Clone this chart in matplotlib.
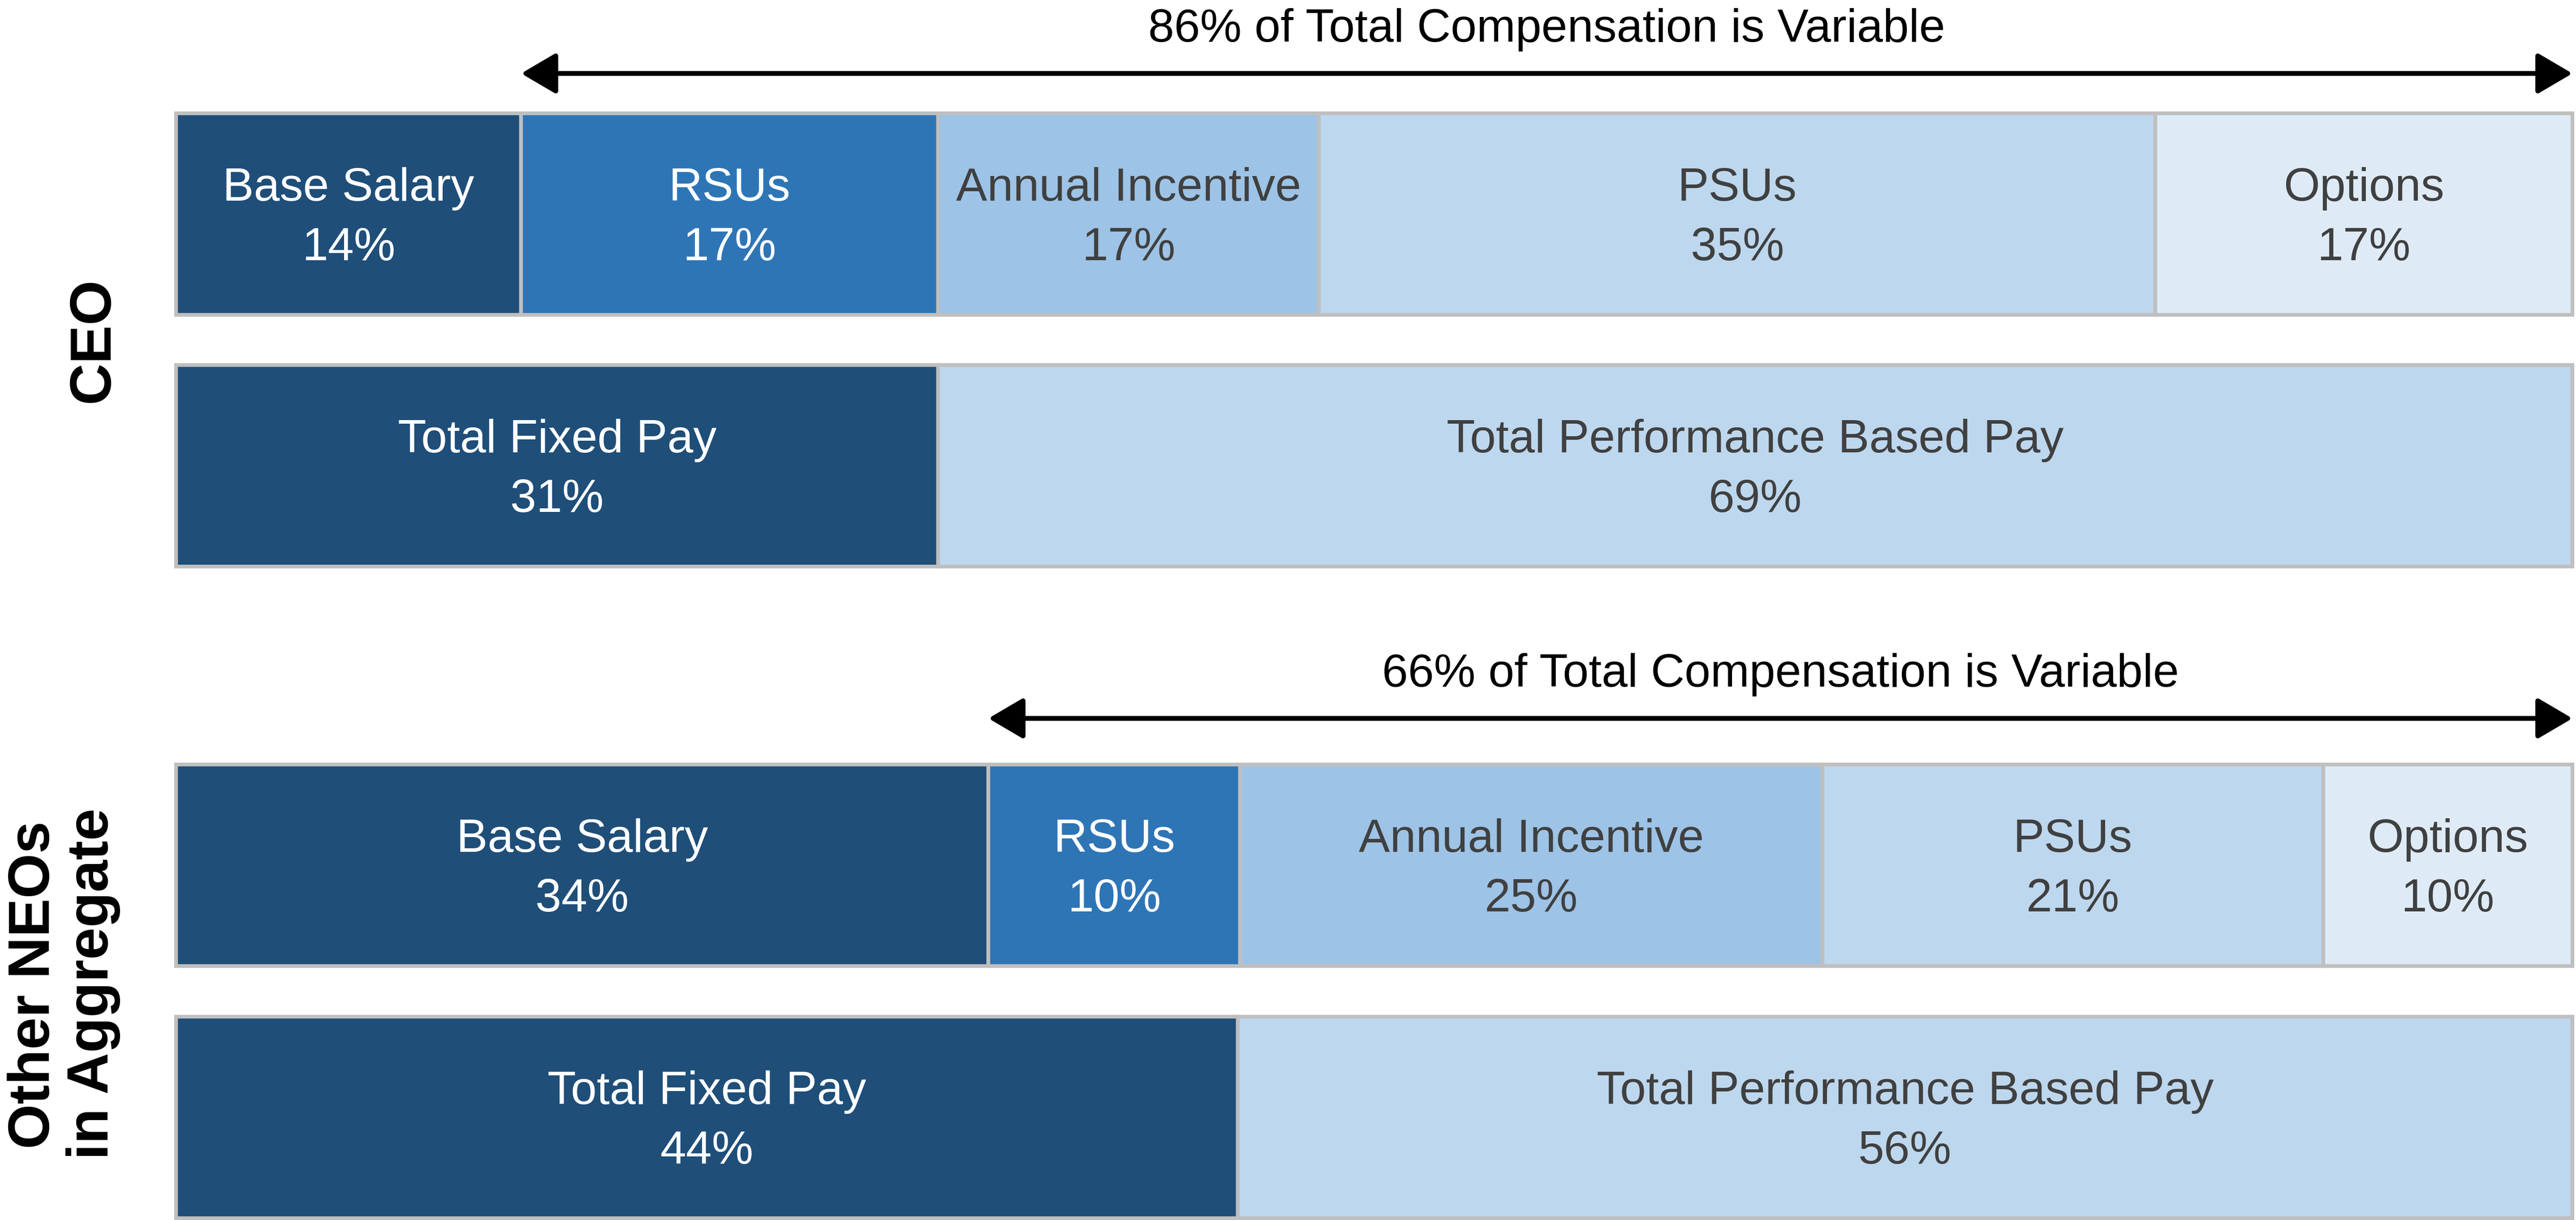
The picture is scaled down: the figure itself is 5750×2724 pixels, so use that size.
import numpy as np
import matplotlib.pyplot as plt

plt.rcParams['font.family'] = ['Liberation Sans', 'DejaVu Sans']

# данные: доли в общем вознаграждении (ширины сегментов) и подписи
parts = ['Base Salary', 'RSUs', 'Annual Incentive', 'PSUs', 'Options']
totals = ['Total Fixed Pay', 'Total Performance Based Pay']

ceo_shares = [14.4, 17.4, 15.9, 34.9, 17.4]
ceo_labels = ['14%', '17%', '17%', '35%', '17%']
ceo_total_shares = [31.8, 68.2]
ceo_total_labels = ['31%', '69%']
ceo_variable = '86% of Total Compensation is Variable'

neo_shares = [33.9, 10.5, 24.3, 20.9, 10.4]
neo_labels = ['34%', '10%', '25%', '21%', '10%']
neo_total_shares = [44.3, 55.7]
neo_total_labels = ['44%', '56%']
neo_variable = '66% of Total Compensation is Variable'

part_colors = ['#1F4E79', '#2E75B6', '#9DC3E6', '#BDD7EE', '#DEEBF7']
part_text = ['white', 'white', '#404040', '#404040', '#404040']
total_colors = ['#1F4E79', '#BDD7EE']
total_text = ['white', '#404040']

W, H = 5750, 2724
fig = plt.figure(figsize=(W / 300, H / 300), dpi=300)
ax = fig.add_axes([393 / W, 0, (5742 - 393) / W, 1])
ax.set_xlim(0, 100)
ax.set_ylim(H, 0)
ax.axis('off')

bar_h = 450


def draw_bar(yc, shares, names, labels, colors, tcolors):
    lefts = np.concatenate([[0], np.cumsum(shares)[:-1]])
    ax.barh([yc] * len(shares), shares, left=lefts, height=bar_h, color=colors,
            edgecolor='#BFBFBF', linewidth=2, clip_on=False)
    for left, w, name, lab, tc in zip(lefts, shares, names, labels, tcolors):
        ax.text(left + w / 2, yc - 30, name, ha='center', va='baseline',
                fontsize=25, color=tc)
        ax.text(left + w / 2, yc + 103, lab, ha='center', va='baseline',
                fontsize=25, color=tc)


def draw_arrow(y, start, title):
    ax.annotate('', xy=(100, y), xytext=(start, y),
                arrowprops=dict(arrowstyle='<|-|>,head_length=16,head_width=9.4',
                                mutation_scale=1, lw=2.6, color='black',
                                shrinkA=0, shrinkB=0), annotation_clip=False)
    ax.text((start + 100) / 2, y - 71, title, ha='center', va='baseline',
            fontsize=25, color='black')


# CEO
draw_arrow(164, ceo_shares[0], ceo_variable)
draw_bar(478, ceo_shares, parts, ceo_labels, part_colors, part_text)
draw_bar(1040, ceo_total_shares, totals, ceo_total_labels, total_colors, total_text)

# остальные NEO
draw_arrow(1604, neo_shares[0], neo_variable)
draw_bar(1932, neo_shares, parts, neo_labels, part_colors, part_text)
draw_bar(2495, neo_total_shares, totals, neo_total_labels, total_colors, total_text)

# подписи групп слева
fig.text(243 / W, 1 - 759 / H, 'CEO', rotation=90, rotation_mode='anchor',
         ha='center', va='baseline', fontsize=31, fontweight='bold')
fig.text(110 / W, 1 - 2199 / H, 'Other NEOs', rotation=90, rotation_mode='anchor',
         ha='center', va='baseline', fontsize=31, fontweight='bold')
fig.text(241 / W, 1 - 2197 / H, 'in Aggregate', rotation=90, rotation_mode='anchor',
         ha='center', va='baseline', fontsize=31, fontweight='bold')

fig.savefig('out.png', dpi=300)
